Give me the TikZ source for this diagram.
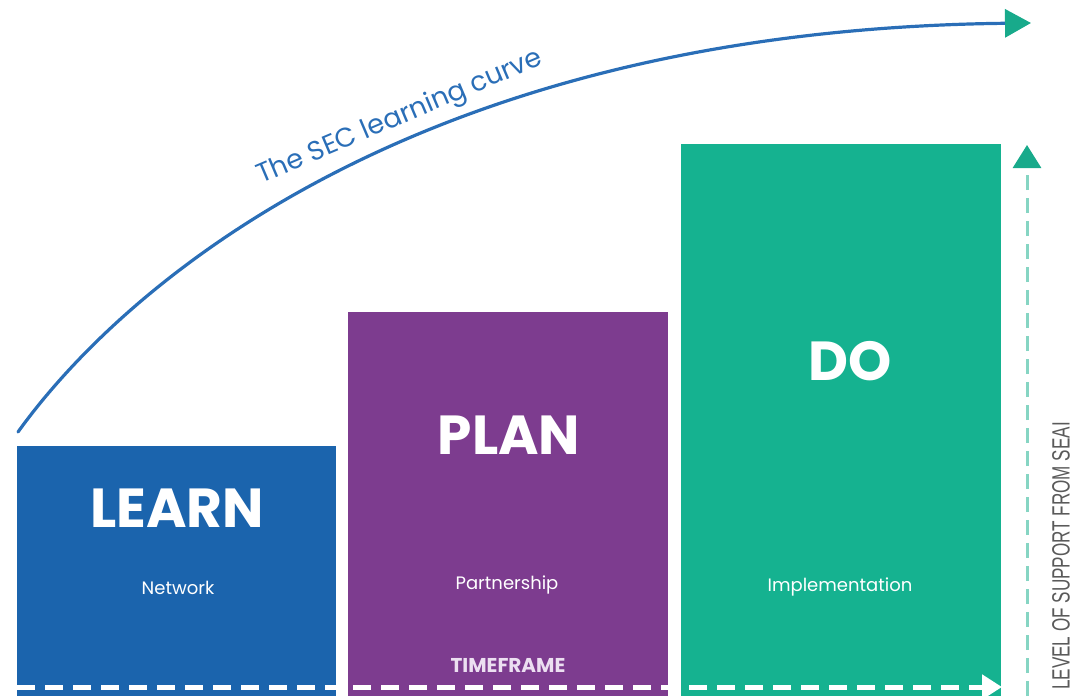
\documentclass[tikz,border=0pt]{standalone}
\usepackage{fontspec}
\setmainfont{Poppins}
\newfontfamily\narrowfont{Liberation Sans}
\usetikzlibrary{arrows.meta,positioning}
\definecolor{learnblue}{HTML}{1B64AD}
\definecolor{planpurple}{HTML}{7D3C8F}
\definecolor{doteal}{HTML}{15B290}
\definecolor{curveblue}{HTML}{2A6EB7}
\definecolor{tipgreen}{HTML}{18AA8B}
\definecolor{dashteal}{HTML}{86D5C3}
\definecolor{labelgray}{HTML}{5A5A5A}
\definecolor{framelilac}{HTML}{ECDFF1}
\begin{document}
\begin{tikzpicture}[x=1pt,y=-1pt,line join=round,
  stage/.style={draw=none,inner sep=0pt,anchor=north west},
  title/.style={text=white,font=\fontsize{55}{60}\selectfont\bfseries},
  sub/.style={text=white,font=\fontsize{18}{20}\selectfont}]
\useasboundingbox (0,0) rectangle (1073,696);

% the three stages
\node[stage,fill=learnblue,minimum width=319pt,minimum height=250pt] (learn) at (17,446) {};
\node[stage,fill=planpurple,minimum width=320pt,minimum height=384pt] (plan) at (348,312) {};
\node[stage,fill=doteal,minimum width=320pt,minimum height=552pt] (do) at (681,144) {};

\node[title] (learnT) at (177,508) {LEARN};
\node[title] (planT) at (509,435) {PLAN};
\node[title] (doT) at (850,361) {DO};
\node[sub] (learnS) at (178,588) {Network};
\node[sub] (planS) at (507,585) {Partnership};
\node[sub] (doS) at (840,587) {Implementation};
\node[text=framelilac,font=\fontsize{20}{22}\selectfont\bfseries] (frame) at (508,665) {TIMEFRAME};

% time axis
\coordinate (tstart) at (17,687);
\coordinate (tend) at (1002,687);
\draw[white,line width=5pt,dash pattern=on 18pt off 10pt,
  -{Triangle[length=20pt,width=24pt]}] (tstart) -- (tend);

% support axis
\coordinate (sstart) at (1027,696);
\coordinate (send) at (1027,145);
\draw[dashteal,line width=3pt,dash pattern=on 15pt off 8pt,
  -{Triangle[color=tipgreen,length=23pt,width=28pt]}] (sstart) -- (send);
\node[rotate=90,text=labelgray,font=\narrowfont\fontsize{25}{25}\selectfont] (support) at (1061,556)
  {\scalebox{0.684}[1]{LEVEL OF SUPPORT FROM SEAI}};

% learning curve
\coordinate (cstart) at (18,432);
\coordinate (cend) at (1031,23);
\draw[curveblue,line width=3.2pt,line cap=round,
  -{Triangle[color=tipgreen,length=26pt,width=28pt]}]
  (cstart) .. controls (120,290) and (410,30) .. (cend);
\node[anchor=base west,rotate=23,inner sep=0pt,text=curveblue,
  font=\fontsize{27}{27}\selectfont] (curveL) at (261,184) {The SEC learning curve};
\end{tikzpicture}
\end{document}
